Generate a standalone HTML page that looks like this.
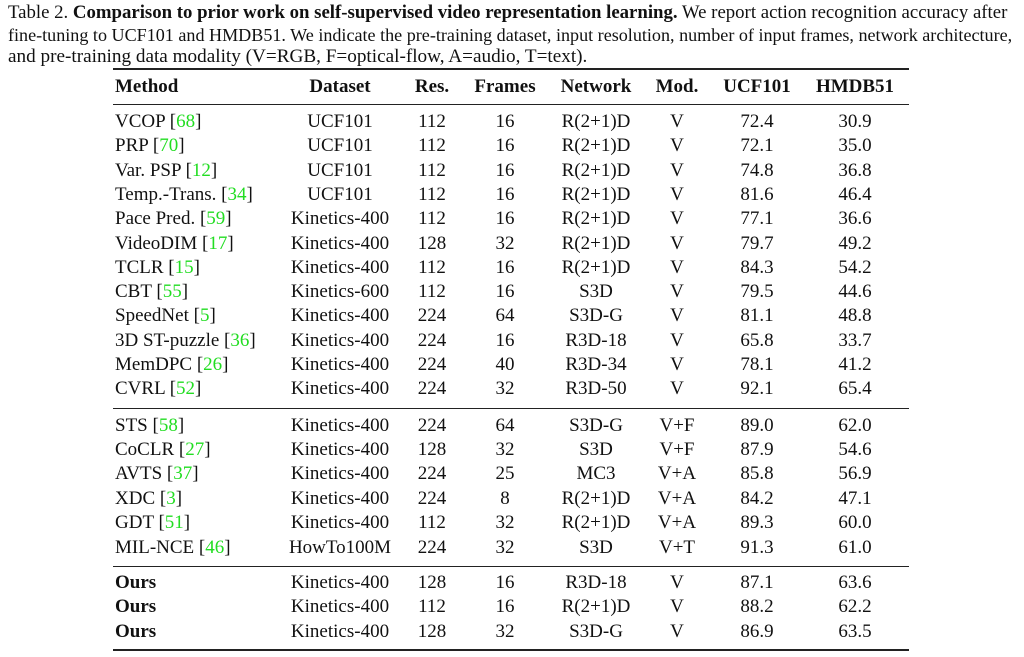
<!DOCTYPE html>
<html><head><meta charset="utf-8"><style>
body{margin:0;width:1024px;height:657px;background:#fff;position:relative;overflow:hidden;font-family:"Liberation Serif",serif;color:#111}
.cap{position:absolute;left:8px;white-space:nowrap;line-height:22px}
.r{position:absolute;left:0;width:1024px;height:24px;line-height:24px;font-size:19px}
.r > span{position:absolute;text-align:center;width:140px;margin-left:-70px;white-space:nowrap}
.r > span.m{left:115px;margin-left:0;text-align:left;width:auto}
.g{color:#22dd22;font-style:normal}
.rule{position:absolute;left:113px;width:796px;background:#222}
b{font-weight:bold}
</style></head><body>
<div class="cap" style="top:2px;font-size:18.8px">Table 2. <b>Comparison to prior work on self-supervised video representation learning.</b> We report action recognition accuracy after</div>
<div class="cap" style="top:24px;font-size:18.1px">fine-tuning to UCF101 and HMDB51. We indicate the pre-training dataset, input resolution, number of input frames, network architecture,</div>
<div class="cap" style="top:46px;font-size:19.2px">and pre-training data modality (V=RGB, F=optical-flow, A=audio, T=text).</div>
<div class="rule" style="top:68px;height:2px"></div>
<div class="rule" style="top:104px;height:1px"></div>
<div class="rule" style="top:408px;height:1px"></div>
<div class="rule" style="top:566px;height:1px"></div>
<div class="rule" style="top:649px;height:2px"></div>
<div id="t"></div>
<script>
const X=[340,432,505,596,677,757,855];
const rows=[
[87,"<b>Method</b>",["<b>Dataset</b>","<b>Res.</b>","<b>Frames</b>","<b>Network</b>","<b>Mod.</b>","<b>UCF101</b>","<b>HMDB51</b>"]],
[122,"VCOP [<i class=g>68</i>]",["UCF101","112","16","R(2+1)D","V","72.4","30.9"]],
[146,"PRP [<i class=g>70</i>]",["UCF101","112","16","R(2+1)D","V","72.1","35.0"]],
[171,"Var. PSP [<i class=g>12</i>]",["UCF101","112","16","R(2+1)D","V","74.8","36.8"]],
[195,"Temp.-Trans. [<i class=g>34</i>]",["UCF101","112","16","R(2+1)D","V","81.6","46.4"]],
[219,"Pace Pred. [<i class=g>59</i>]",["Kinetics-400","112","16","R(2+1)D","V","77.1","36.6"]],
[244,"VideoDIM [<i class=g>17</i>]",["Kinetics-400","128","32","R(2+1)D","V","79.7","49.2"]],
[268,"TCLR [<i class=g>15</i>]",["Kinetics-400","112","16","R(2+1)D","V","84.3","54.2"]],
[292,"CBT [<i class=g>55</i>]",["Kinetics-600","112","16","S3D","V","79.5","44.6"]],
[316,"SpeedNet [<i class=g>5</i>]",["Kinetics-400","224","64","S3D-G","V","81.1","48.8"]],
[341,"3D ST-puzzle [<i class=g>36</i>]",["Kinetics-400","224","16","R3D-18","V","65.8","33.7"]],
[365,"MemDPC [<i class=g>26</i>]",["Kinetics-400","224","40","R3D-34","V","78.1","41.2"]],
[389,"CVRL [<i class=g>52</i>]",["Kinetics-400","224","32","R3D-50","V","92.1","65.4"]],
[426,"STS [<i class=g>58</i>]",["Kinetics-400","224","64","S3D-G","V+F","89.0","62.0"]],
[450,"CoCLR [<i class=g>27</i>]",["Kinetics-400","128","32","S3D","V+F","87.9","54.6"]],
[474,"AVTS [<i class=g>37</i>]",["Kinetics-400","224","25","MC3","V+A","85.8","56.9"]],
[499,"XDC [<i class=g>3</i>]",["Kinetics-400","224","8","R(2+1)D","V+A","84.2","47.1"]],
[523,"GDT [<i class=g>51</i>]",["Kinetics-400","112","32","R(2+1)D","V+A","89.3","60.0"]],
[548,"MIL-NCE [<i class=g>46</i>]",["HowTo100M","224","32","S3D","V+T","91.3","61.0"]],
[583,"<b>Ours</b>",["Kinetics-400","128","16","R3D-18","V","87.1","63.6"]],
[607,"<b>Ours</b>",["Kinetics-400","112","16","R(2+1)D","V","88.2","62.2"]],
[632,"<b>Ours</b>",["Kinetics-400","128","32","S3D-G","V","86.9","63.5"]]];
let h="";
for(const [y,m,c] of rows){
 h+=`<div class="r" style="top:${y-12}px"><span class="m">${m}</span>`;
 c.forEach((v,i)=>h+=`<span style="left:${X[i]}px">${v}</span>`);
 h+="</div>";
}
document.getElementById("t").innerHTML=h;
</script>
</body></html>
